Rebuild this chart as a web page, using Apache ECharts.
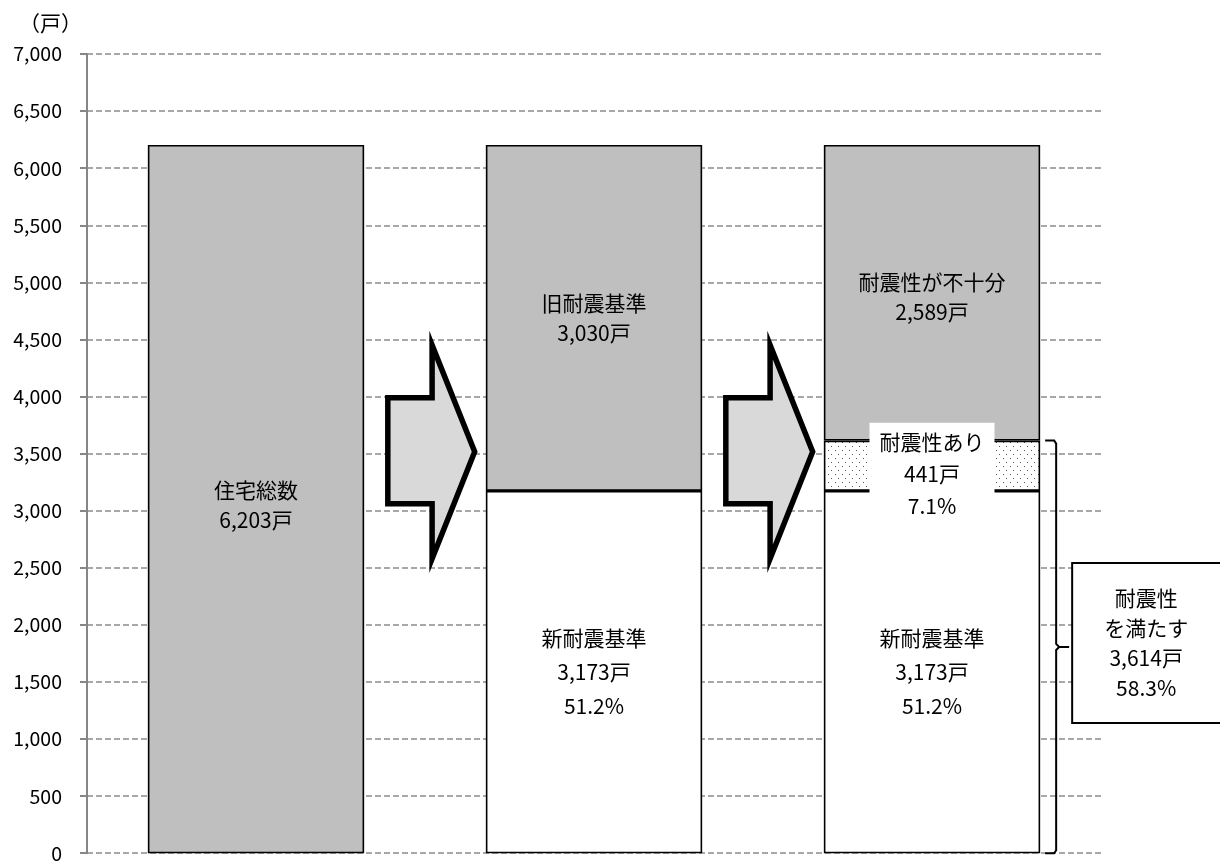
<!DOCTYPE html>
<html><head><meta charset="utf-8">
<script src="https://cdn.jsdelivr.net/npm/echarts@6/dist/echarts.min.js"></script>
<style>html,body{margin:0;padding:0;background:#fff}#c{width:1220px;height:863px}</style>
</head><body><div id="c"></div>
<script>
// ---- data ----
const categories = ['住宅総数', '建築時期別', '耐震性別'];
const totalHouses = [6203, null, null];
const newStandard = [null, 3173, 3173];
const oldStandard = [null, 3030, null];
const seismicOK = [null, null, 441];
const seismicInsufficient = [null, null, 2589];
const satisfiedTotal = 3614;
const arrowSlots = [0, 1];
const yMin = 0, yMax = 7000, yInterval = 500;
const unitLabel = '（戸）';
const totalLabel = '住宅総数\n6,203戸';
const newLabel = '新耐震基準\n3,173戸\n51.2%';
const oldLabel = '旧耐震基準\n3,030戸';
const okLabel = '耐震性あり\n441戸\n7.1%';
const insuffLabel = '耐震性が不十分\n2,589戸';
const satisfiedLabel = '耐震性\nを満たす\n3,614戸\n58.3%';

// ---- styles ----
const FONT = '"Noto Sans CJK JP", "Noto Sans", sans-serif';
const GRAY = '#bfbfbf';
const LFS = 21;
const pc = document.createElement('canvas'); pc.width = 7; pc.height = 8;
const pg = pc.getContext('2d');
pg.fillStyle = '#fff'; pg.fillRect(0, 0, 7, 8);
pg.fillStyle = '#555'; pg.fillRect(2, 2, 1, 1); pg.fillRect(5, 6, 1, 1);
const dotPattern = { image: pc, repeat: 'repeat' };

const chart = echarts.init(document.getElementById('c'), null, { renderer: 'canvas' });
const border = { borderColor: '#000', borderWidth: 1.6 };
function lbl(text, extra) {
  return Object.assign({
    show: true, position: 'inside', formatter: text, color: '#000',
    fontSize: LFS, fontFamily: FONT, lineHeight: 30, align: 'center'
  }, extra || {});
}
function barSeries(name, data, color, label) {
  return {
    name, type: 'bar', stack: 'a', data, barWidth: '64%',
    itemStyle: Object.assign({ color }, border),
    label, emphasis: { disabled: true }, animation: false
  };
}

const option = {
  animation: false,
  title: { text: unitLabel, left: 14, top: 8, textStyle: { fontSize: 21, fontWeight: 'normal', color: '#000', fontFamily: FONT } },
  grid: { left: 87, right: 119, top: 54, bottom: 7, containLabel: false },
  xAxis: {
    type: 'category', data: categories,
    axisLine: { show: false }, axisTick: { show: false }, axisLabel: { show: false }, splitLine: { show: false }
  },
  yAxis: {
    type: 'value', min: yMin, max: yMax, interval: yInterval,
    axisLine: { show: true, lineStyle: { color: '#868686', width: 2 } },
    axisTick: { show: true, length: 7, lineStyle: { color: '#868686', width: 2 } },
    axisLabel: { color: '#000', fontSize: 19.5, fontFamily: FONT, margin: 25,
      formatter: v => v.toLocaleString('en-US') },
    splitLine: { show: true, lineStyle: { color: '#8c8c8c', width: 1.5, type: [6, 3] } }
  },
  series: [
    barSeries('住宅総数', totalHouses, GRAY, lbl(totalLabel, { offset: [0, 6] })),
    barSeries('新耐震基準', newStandard, '#fff', lbl(newLabel, { lineHeight: 34 })),
    barSeries('旧耐震基準', oldStandard, GRAY, lbl(oldLabel)),
    barSeries('耐震性あり', seismicOK, dotPattern, lbl(okLabel, {
      lineHeight: 32, backgroundColor: '#fff', padding: [2, 10, 4, 10], offset: [0, 8]
    })),
    barSeries('耐震性が不十分', seismicInsufficient, GRAY, lbl(insuffLabel, { offset: [0, 4] })),
    {
      type: 'custom', name: 'arrows', data: arrowSlots.map(i => [i]), z: 5, silent: true,
      renderItem(params, api) {
        const i = api.value(0);
        const step = api.size([1, 0])[0];
        const c0 = api.coord([i, 0])[0];
        const X = f => c0 + f * step;
        const Y = v => api.coord([i, v])[1];
        const pts = [
          [X(0.390), Y(3990)], [X(0.521), Y(3990)], [X(0.521), Y(4450)],
          [X(0.647), Y(3517)], [X(0.521), Y(2580)], [X(0.521), Y(3060)], [X(0.390), Y(3060)]
        ];
        return { type: 'polygon', shape: { points: pts },
          style: { fill: '#d9d9d9', stroke: '#000', lineWidth: 5.5, lineJoin: 'miter' } };
      }
    },
    {
      type: 'custom', name: 'brace', data: [[2, satisfiedTotal]], z: 5, silent: true,
      renderItem(params, api) {
        const i = api.value(0);
        const step = api.size([1, 0])[0];
        const bx = api.coord([i, 0])[0] + step * 0.32;
        const yt = api.coord([i, api.value(1)])[1];
        const yb = api.coord([i, 0])[1];
        const ym = (yt + yb) / 2;
        const a = bx + 5, b = bx + 16, c = bx + 29;
        const pts = [[a, yt], [b - 2, yt], [b, yt + 3], [b, ym - 3], [b + 3, ym], [c, ym],
          [b + 3, ym], [b, ym + 3], [b, yb - 3], [b - 2, yb], [a, yb]];
        return { type: 'group', children: [
          { type: 'polyline', shape: { points: pts }, style: { stroke: '#000', lineWidth: 2, fill: null } },
          { type: 'rect', shape: { x: bx + 32, y: ym - 84, width: 160, height: 160 },
            style: { fill: '#fff', stroke: '#000', lineWidth: 2 } },
          { type: 'text', style: { text: satisfiedLabel, x: bx + 106, y: ym - 4, align: 'center',
            verticalAlign: 'middle', fontSize: LFS, fontFamily: FONT, lineHeight: 30, fill: '#000' } }
        ] };
      }
    }
  ]
};
chart.setOption(option);
</script>
</body></html>
